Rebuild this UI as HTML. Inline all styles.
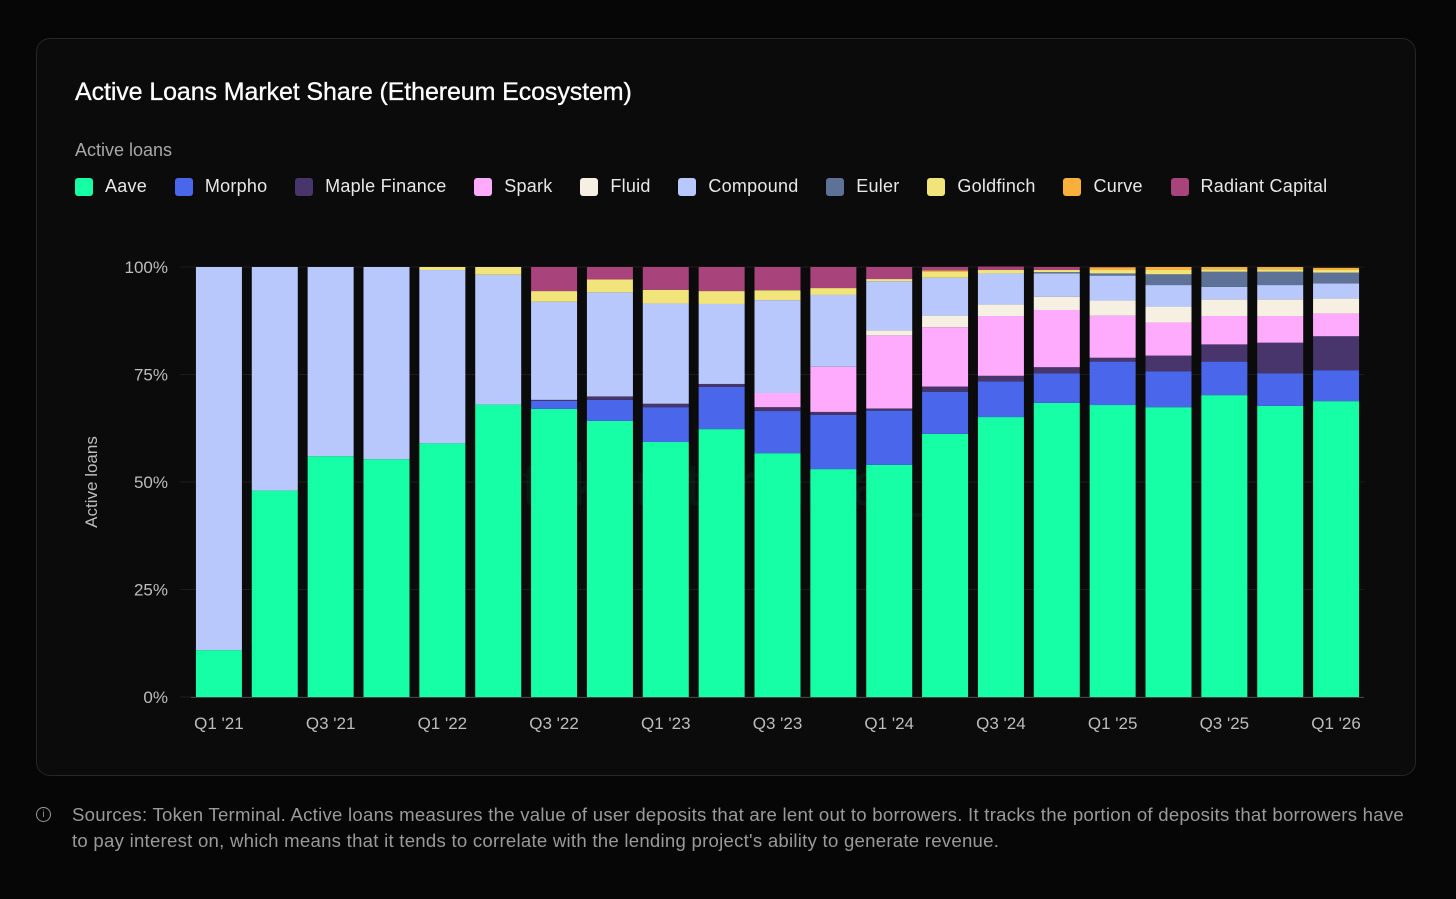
<!DOCTYPE html>
<html><head><meta charset="utf-8">
<style>
body{margin:0;background:#060606;width:1456px;height:899px;overflow:hidden;font-family:"Liberation Sans",sans-serif;}
#card{position:absolute;left:36px;top:38px;width:1380px;height:738px;border:1px solid #262626;border-radius:14px;background:#0b0b0b;box-sizing:border-box;}
#title{position:absolute;left:75px;top:78px;color:#fff;font-size:25px;letter-spacing:-0.1px;-webkit-text-stroke:0.3px #fff;}
#sub{position:absolute;left:75px;top:140px;color:#a8a8a8;font-size:18px;}
#legend{position:absolute;left:75px;top:176px;display:flex;color:#e8e8e8;font-size:18px;letter-spacing:0.25px;}
.li{display:flex;align-items:center;margin-right:27.8px;}
.sw{width:18px;height:18px;border-radius:3px;margin-right:12px;}
#foot{position:absolute;left:72px;top:802px;width:1338px;color:#9a9a9a;font-size:18.6px;line-height:26px;letter-spacing:0.25px;}
#info{position:absolute;left:36px;top:807px;width:13px;height:13px;border:1.5px solid #9a9a9a;border-radius:50%;color:#9a9a9a;font-size:10px;text-align:center;line-height:13px;}
</style></head><body>
<div id="card"></div>
<div id="title">Active Loans Market Share (Ethereum Ecosystem)</div>
<div id="sub">Active loans</div>
<div id="legend"></div>
<svg id="chart" width="1456" height="899" style="position:absolute;left:0;top:0"></svg>
<div id="info">i</div>
<div id="foot">Sources: Token Terminal. Active loans measures the value of user deposits that are lent out to borrowers. It tracks the portion of deposits that borrowers have to pay interest on, which means that it tends to correlate with the lending project's ability to generate revenue.</div>
<script>
const categories=["Q1 '21","Q2 '21","Q3 '21","Q4 '21","Q1 '22","Q2 '22","Q3 '22","Q4 '22","Q1 '23","Q2 '23","Q3 '23","Q4 '23","Q1 '24","Q2 '24","Q3 '24","Q4 '24","Q1 '25","Q2 '25","Q3 '25","Q4 '25","Q1 '26"];
const seriesNames=["Aave","Morpho","Maple Finance","Spark","Fluid","Compound","Euler","Goldfinch","Curve","Radiant Capital"];
const seriesColors=["#16ffa6","#4a66ea","#47356b","#ffabfd","#f5f0e1","#b8c8fd","#5e7196","#f0e47b","#f8b03a","#a8437c"];
const aave=[10.9,48,56,55.3,59,68,67,64.2,59.3,62.3,56.7,53,54,61.2,65.1,68.4,67.9,67.4,70.2,67.7,68.8];
const morpho=[0,0,0,0,0,0,1.9,4.9,8.1,9.8,9.8,12.6,12.6,9.8,8.3,6.9,10.1,8.3,7.8,7.6,7.2];
const maple=[0,0,0,0,0,0,0.2,0.8,0.8,0.7,0.9,0.7,0.5,1.2,1.3,1.4,0.9,3.7,4.0,7.1,7.9];
const spark=[0,0,0,0,0,0,0,0,0,0,3.3,10.5,17,13.8,13.9,13.3,9.8,7.7,6.6,6.2,5.3];
const fluid=[0,0,0,0,0,0,0,0,0,0,0,0,1.2,2.7,2.7,3.1,3.5,3.7,3.9,3.9,3.5];
const compound=[89.1,52,44,44.7,40.3,30.2,22.8,24.2,23.3,18.6,21.6,16.7,11.4,8.8,7.2,5.4,5.8,5.0,2.9,3.3,3.5];
const euler=[0,0,0,0,0,0,0,0,0,0,0,0,0,0,0,0.3,0.5,2.5,3.5,3.1,2.5];
const goldfinch=[0,0,0,0,0.7,1.8,2.5,3,3.2,3,2.3,1.6,0.5,1.5,0.8,0.5,0.8,1.0,0.6,0.6,0.6];
const curve=[0,0,0,0,0,0,0,0,0,0,0,0,0,0.2,0,0,0.6,0.7,0.5,0.5,0.5];
const radiant=[0,0,0,0,0,0,5.6,2.9,5.3,5.6,5.4,4.9,2.8,0.8,0.8,0.7,0.1,0,0,0,0];
const yTicks=[0,25,50,75,100];
const series=[aave,morpho,maple,spark,fluid,compound,euler,goldfinch,curve,radiant];

const NS="http://www.w3.org/2000/svg";
const svg=document.getElementById('chart');
const X0=191,X1=1364,Y0=697,Y1=267;
const step=(X1-X0)/categories.length, bw=46;
const y=v=>Y0-(v/100)*(Y0-Y1);
const x=i=>X0+step*i+(step-bw)/2;
function mk(t,a){const e=document.createElementNS(NS,t);for(const k in a)e.setAttribute(k,a[k]);svg.appendChild(e);return e;}
yTicks.forEach(t=>{
  const g=mk('line',{x1:180,x2:1364,y1:y(t),y2:y(t),stroke:'#1c1c1c','stroke-width':1});
  
  
  const l=mk('text',{x:168,y:y(t)+6,fill:'#bdbdbd','font-size':17,'text-anchor':'end','font-family':'Liberation Sans'});
  l.textContent=t+'%';
  
  
});
const yt=mk('text',{x:0,y:0,fill:'#bdbdbd','font-size':17,'text-anchor':'middle',transform:'translate(97,482) rotate(-90)','font-family':'Liberation Sans'});
yt.textContent='Active loans';


const wm=mk('text',{x:727,y:505,fill:'#16ffa6','fill-opacity':0.05,'font-size':60,'text-anchor':'middle','font-family':'Liberation Sans'});
wm.textContent='token terminal_';


categories.forEach((c,i)=>{
  let acc=0;
  series.forEach((s,k)=>{
    const v=s[i]; if(v<=0) return;
    const r=mk('rect',{x:x(i),y:y(acc+v),width:bw,height:y(acc)-y(acc+v),fill:seriesColors[k]});
    
    
    acc+=v;
  });
  if(i%2===0){
    const t=mk('text',{x:x(i)+bw/2,y:729,fill:'#bdbdbd','font-size':17,'text-anchor':'middle','font-family':'Liberation Sans'});
    t.textContent=c;
    
    
  }
});
const ax=mk('line',{x1:191,x2:1364,y1:Y0+0.5,y2:Y0+0.5,stroke:'#444','stroke-width':1});


const lg=document.getElementById('legend');
seriesNames.forEach((n,k)=>{
  const d=document.createElement('div');d.className='li';
  
  
  d.innerHTML='<div class="sw" style="background:'+seriesColors[k]+'"></div>'+n;
  lg.appendChild(d);
});
</script>
</body></html>
